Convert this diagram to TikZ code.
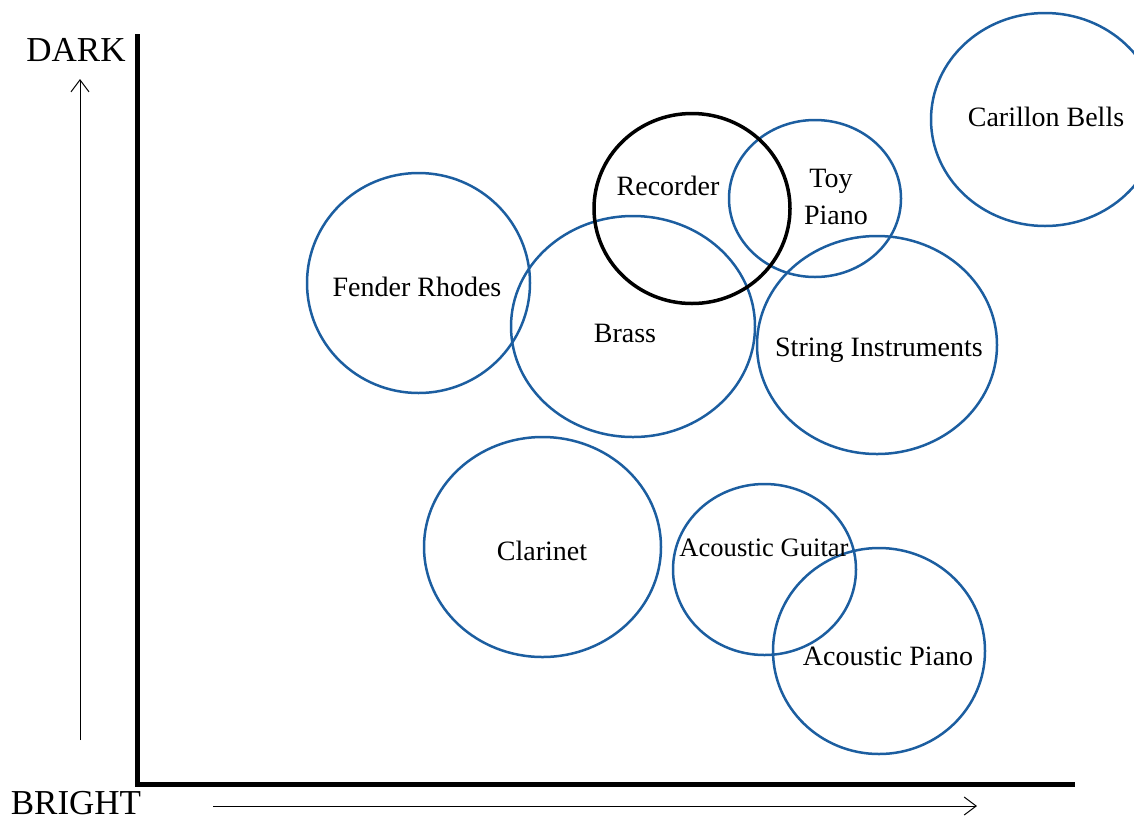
\documentclass[tikz,border=0pt]{standalone}
\usepackage{fontspec}
\setmainfont{Liberation Serif}
\usetikzlibrary{arrows.meta}
\definecolor{ringblue}{RGB}{28,94,160}
\tikzset{
  ring/.style={draw=ringblue, line width=1.25pt},
  axisline/.style={line width=2.5pt, line cap=rect},
  hint/.style={line width=0.5pt, -{Straight Barb[length=6pt,width=9pt]}},
  tag/.style={inner sep=0pt, font=\fontsize{14}{18.5}\selectfont, align=center},
  axistag/.style={inner sep=0pt, font=\fontsize{17.5}{20}\selectfont}
}
\begin{document}
\begin{tikzpicture}[x=0.5pt,y=-0.5pt]
	\useasboundingbox (0,0) rectangle (1134,820);
	\clip (0,0) rectangle (1134,820);
	% axes
	\coordinate (O) at (137,784);
	\coordinate (Ytop) at (137,36);
	\coordinate (Xend) at (1072,784);
	\draw [axisline] (Ytop) -- (O) -- (Xend);
	\coordinate (D0) at (80,740);
	\coordinate (D1) at (80,79);
	\coordinate (B0) at (213,806);
	\coordinate (B1) at (977,806);
	\draw [hint] (D0) -- (D1);
	\draw [hint] (B0) -- (B1);
	\node [axistag] (dark) at (76,50) {DARK};
	\node [axistag] (bright) at (76,803) {BRIGHT};
	% instruments
	\coordinate (F) at (418.5,283);
	\coordinate (Br) at (633,326.5);
	\coordinate (R) at (692,208.5);
	\coordinate (T) at (815,198.5);
	\coordinate (C) at (1045,119.5);
	\coordinate (S) at (877,345);
	\coordinate (Cl) at (542.5,547);
	\coordinate (G) at (764.5,569.5);
	\coordinate (P) at (879,651);
	\draw [ring] (F) ellipse [x radius=111.5, y radius=110];
	\draw [ring] (Br) ellipse [x radius=122, y radius=110.5];
	\draw [ring] (T) ellipse [x radius=86, y radius=78.5];
	\draw [ring] (C) ellipse [x radius=114, y radius=106.5];
	\draw [ring] (S) ellipse [x radius=120, y radius=109];
	\draw [ring] (Cl) ellipse [x radius=118.5, y radius=110];
	\draw [ring] (G) ellipse [x radius=91.5, y radius=85.5];
	\draw [ring] (P) ellipse [x radius=106, y radius=103];
	\draw [line width=1.75pt] (R) ellipse [x radius=98, y radius=95];
	\node [tag] (fender) at (417,287) {Fender Rhodes};
	\node [tag] (brass) at (625,333) {Brass};
	\node [tag] (recorder) at (668,186) {Recorder};
	\node [tag] (toy) at (831,197) {Toy\\\hspace*{5pt}Piano};
	\node [tag] (bells) at (1046,117) {Carillon Bells};
	\node [tag] (strings) at (879,350) {String Instruments};
	\node [tag] (clarinet) at (542,551) {Clarinet};
	\node [tag, font=\fontsize{13.3}{16}\selectfont] (guitar) at (764,548) {Acoustic Guitar};
	\node [tag] (piano) at (888,656) {Acoustic Piano};
\end{tikzpicture}
\end{document}
